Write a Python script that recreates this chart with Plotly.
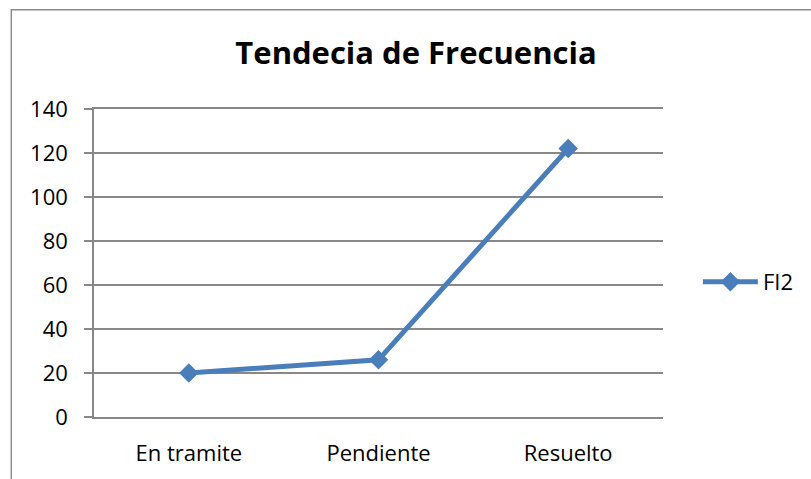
import plotly.graph_objects as go

categories = ["En tramite", "Pendiente", "Resuelto"]
fi2_values = [20, 26, 122]
y_ticks = [0, 20, 40, 60, 80, 100, 120, 140]
series_name = "FI2"
title_text = "Tendecia de Frecuencia"

W, H = 811, 479
L, R, T, B = 94, 665, 109, 419
PW, PH = R - L, B - T

def px_x(x):
    return (x - L) / PW

def px_y(y):
    return (B - y) / PH

color = "#4A7EBB"
grid = "#888888"
font_family = "Open Sans, Calibri, sans-serif"

fig = go.Figure()
fig.add_trace(go.Scatter(
    x=categories, y=fi2_values, mode="lines+markers", name=series_name,
    line=dict(color=color, width=5),
    marker=dict(symbol="diamond", size=15, color=color),
))

fig.update_layout(
    width=W, height=H,
    margin=dict(l=L, r=W - R, t=T, b=H - B, pad=0),
    paper_bgcolor="white", plot_bgcolor="white",
    font=dict(family=font_family, size=22, color="#000000"),
    title=dict(text="<b>" + title_text + "</b>", x=416 / W, xanchor="center",
               y=1 - 53 / H, yanchor="middle", yref="container",
               font=dict(size=31, family=font_family, color="#000000")),
    showlegend=True,
    legend=dict(x=px_x(700), xanchor="left", y=px_y(283), yanchor="middle",
                font=dict(size=22), itemwidth=55, bgcolor="rgba(0,0,0,0)"),
    xaxis=dict(range=[-0.5, 2.5], showgrid=False, showline=True, linecolor=grid,
               linewidth=1.5, mirror=True, ticks="", ticklabelstandoff=16,
               zeroline=False, fixedrange=True),
    yaxis=dict(range=[0, 140], tickvals=y_ticks, showgrid=True, gridcolor=grid,
               gridwidth=1.5, showline=True, linecolor=grid, linewidth=1.5,
               ticks="outside", ticklen=8, tickwidth=1.5, tickcolor=grid,
               zeroline=False, ticklabelstandoff=12, fixedrange=True),
    shapes=[dict(type="rect", xref="paper", yref="paper",
                 x0=px_x(11), x1=px_x(W + 20), y0=px_y(H + 20), y1=px_y(9),
                 line=dict(color="#8C8C8C", width=1.5), fillcolor="rgba(0,0,0,0)",
                 layer="below")],
)

fig.write_html("out.html", config={"displayModeBar": False},
               post_script="document.body.style.margin='0';")
